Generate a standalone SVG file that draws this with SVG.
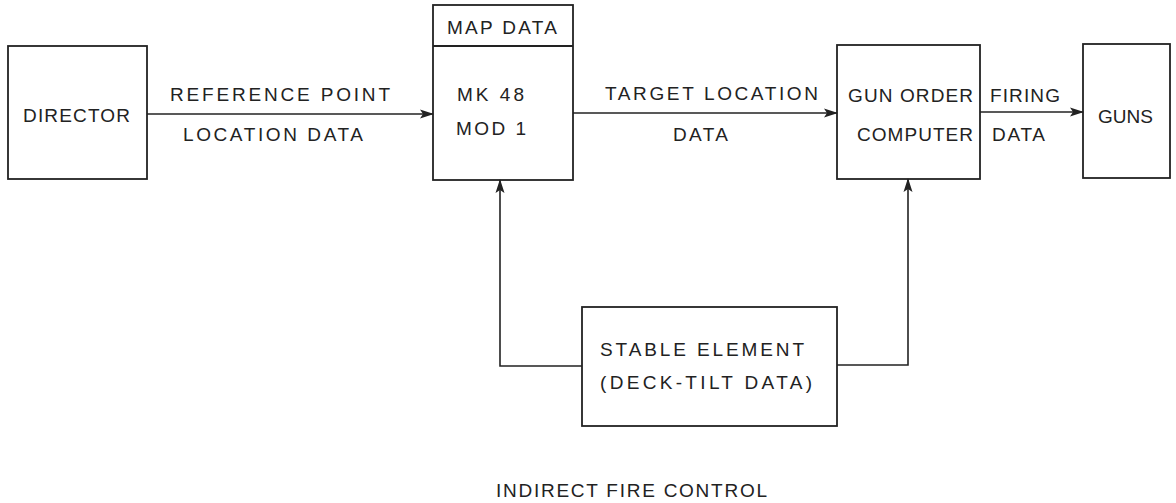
<svg xmlns="http://www.w3.org/2000/svg" width="1176" height="503" viewBox="0 0 1176 503">
<style>
.box{fill:none;stroke:#222;stroke-width:1.8}
.ln{fill:none;stroke:#222;stroke-width:1.6}
text{font-family:"Liberation Sans","DejaVu Sans",sans-serif;font-size:19px;fill:#222}
</style>
<defs>
<marker id="ah" markerWidth="14" markerHeight="10" refX="13" refY="5" orient="auto" markerUnits="userSpaceOnUse">
<path d="M0,0.5 L14,5 L0,9.5 L3,5 Z" fill="#222"/>
</marker>
</defs>
<rect width="1176" height="503" fill="#fff"/>
<g id="director">
<rect class="box" x="8" y="46" width="139" height="133"/>
<text x="23" y="122" textLength="107" lengthAdjust="spacing">DIRECTOR</text>
</g>
<g id="mk48">
<rect class="box" x="433" y="5" width="140" height="175"/>
<line class="box" x1="433" y1="46" x2="573" y2="46"/>
<text x="447" y="34" textLength="110" lengthAdjust="spacing">MAP DATA</text>
<text x="457" y="101" textLength="67" lengthAdjust="spacing">MK 48</text>
<text x="456" y="135" textLength="70" lengthAdjust="spacing">MOD 1</text>
</g>
<g id="gun-order-computer">
<rect class="box" x="837" y="45" width="143" height="134"/>
<text x="848" y="102" textLength="125" lengthAdjust="spacing">GUN ORDER</text>
<text x="857" y="141" textLength="116" lengthAdjust="spacing">COMPUTER</text>
</g>
<g id="guns">
<rect class="box" x="1083" y="44" width="87" height="134"/>
<text x="1098" y="123" textLength="55" lengthAdjust="spacing">GUNS</text>
</g>
<g id="stable-element">
<rect class="box" x="582" y="307" width="255" height="119"/>
<text x="600" y="356" textLength="204" lengthAdjust="spacing">STABLE ELEMENT</text>
<text x="600" y="389" textLength="212" lengthAdjust="spacing">(DECK-TILT DATA)</text>
</g>
<g id="connectors">
<line class="ln" x1="147" y1="114" x2="433" y2="114" marker-end="url(#ah)"/>
<line class="ln" x1="573" y1="113" x2="837" y2="113" marker-end="url(#ah)"/>
<line class="ln" x1="980" y1="112" x2="1083" y2="112" marker-end="url(#ah)"/>
<polyline class="ln" points="582,366 500,366 500,180" marker-end="url(#ah)"/>
<polyline class="ln" points="837,365 908,365 908,179" marker-end="url(#ah)"/>
<text x="170" y="101" textLength="220" lengthAdjust="spacing">REFERENCE POINT</text>
<text x="183" y="141" textLength="180" lengthAdjust="spacing">LOCATION DATA</text>
<text x="605" y="100" textLength="213" lengthAdjust="spacing">TARGET LOCATION</text>
<text x="673" y="141" textLength="55" lengthAdjust="spacing">DATA</text>
<text x="990" y="102" textLength="70" lengthAdjust="spacing">FIRING</text>
<text x="992" y="141" textLength="53" lengthAdjust="spacing">DATA</text>
</g>
<text x="496" y="497" textLength="271" lengthAdjust="spacing">INDIRECT FIRE CONTROL</text>
</svg>
